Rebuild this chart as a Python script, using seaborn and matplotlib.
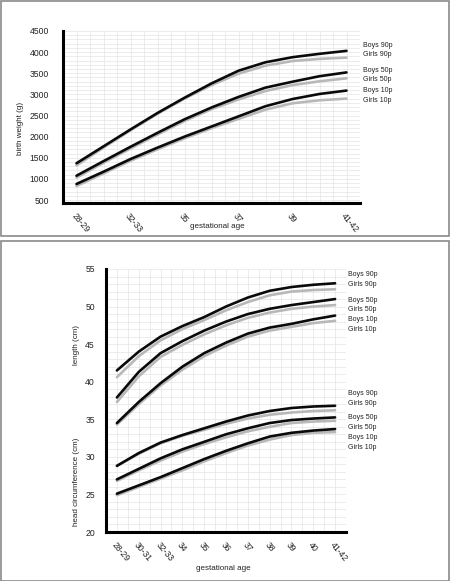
import numpy as np
import pandas as pd
import matplotlib
matplotlib.use("Agg")
import matplotlib.pyplot as plt
from matplotlib.patches import Rectangle
from matplotlib.ticker import MultipleLocator
import seaborn as sns

# ---------------- data ----------------
ages = ["28-29", "30-31", "32-33", "34", "35", "36", "37", "38", "39", "40", "41-42"]
top_tick_labels = ["28-29", "32-33", "35", "37", "39", "41-42"]

weight_boys_90 = [1370, 1770, 2170, 2560, 2920, 3260, 3560, 3760, 3880, 3960, 4030]
weight_girls_90 = [1320, 1740, 2150, 2540, 2900, 3220, 3490, 3680, 3790, 3840, 3870]
weight_boys_50 = [1075, 1420, 1760, 2090, 2410, 2690, 2940, 3160, 3300, 3430, 3520]
weight_girls_50 = [1030, 1380, 1720, 2050, 2370, 2650, 2880, 3080, 3220, 3310, 3380]
weight_boys_10 = [880, 1170, 1470, 1740, 2000, 2240, 2480, 2720, 2890, 3010, 3090]
weight_girls_10 = [830, 1130, 1430, 1700, 1960, 2200, 2420, 2640, 2790, 2860, 2900]

length_boys_90 = [41.5, 44.0, 46.0, 47.4, 48.6, 50.0, 51.2, 52.1, 52.6, 52.9, 53.1]
length_girls_90 = [40.6, 43.4, 45.5, 47.0, 48.2, 49.5, 50.6, 51.5, 52.0, 52.2, 52.3]
length_boys_50 = [37.9, 41.3, 43.8, 45.4, 46.8, 48.0, 49.0, 49.7, 50.2, 50.6, 51.0]
length_girls_50 = [37.3, 40.7, 43.3, 44.9, 46.3, 47.5, 48.5, 49.2, 49.7, 50.0, 50.2]
length_boys_10 = [34.5, 37.3, 39.8, 42.0, 43.8, 45.2, 46.4, 47.2, 47.7, 48.3, 48.8]
length_girls_10 = [34.3, 37.0, 39.5, 41.6, 43.4, 44.8, 46.0, 46.8, 47.3, 47.8, 48.1]

head_boys_90 = [28.8, 30.5, 31.9, 32.9, 33.8, 34.7, 35.5, 36.1, 36.5, 36.7, 36.8]
head_girls_90 = [28.8, 30.4, 31.8, 32.8, 33.6, 34.4, 35.1, 35.6, 35.9, 36.1, 36.2]
head_boys_50 = [27.0, 28.4, 29.8, 31.0, 32.0, 33.0, 33.8, 34.5, 34.9, 35.1, 35.25]
head_girls_50 = [26.8, 28.2, 29.5, 30.7, 31.7, 32.6, 33.4, 34.0, 34.5, 34.7, 34.8]
head_boys_10 = [25.1, 26.2, 27.3, 28.5, 29.7, 30.8, 31.8, 32.7, 33.2, 33.5, 33.7]
head_girls_10 = [24.9, 26.0, 27.1, 28.2, 29.4, 30.5, 31.5, 32.3, 32.9, 33.2, 33.3]

series_names = ["Boys 90p", "Girls 90p", "Boys 50p", "Girls 50p", "Boys 10p", "Girls 10p"]

# label anchor positions (layout only)
weight_label_y = [4155, 3942, 3564, 3343, 3099, 2863]
length_label_y = [54.24, 53.0, 50.86, 49.58, 48.24, 46.95]
head_label_y = [38.42, 37.13, 35.21, 33.97, 32.59, 31.30]

# ---------------- style ----------------
sns.set_style("white")
plt.rcParams["font.family"] = ["Liberation Sans", "DejaVu Sans"]
BLACK = "#0a0a0a"
GRAY = "#b8b8b8"
GRID = "#e4e4e4"
TXT = "#222222"

fig = plt.figure(figsize=(4.5, 5.81), dpi=100)

# panel borders
W, H = 450.0, 581.0
for (y0, y1) in [(0.5, 235.5), (240.5, 580.5)]:
    fig.patches.append(Rectangle((0.5 / W, 1 - y1 / H), 448.5 / W, (y1 - y0) / H,
                                 transform=fig.transFigure, fill=False,
                                 edgecolor="#8a8a8a", lw=1.2))

x = np.arange(len(ages))


def draw(ax, boys, girls):
    sns.lineplot(x=x, y=boys, ax=ax, color=BLACK, lw=1.9, zorder=3,
                 solid_joinstyle="round", solid_capstyle="round")
    sns.lineplot(x=x, y=girls, ax=ax, color=GRAY, lw=1.9, zorder=2,
                 solid_joinstyle="round", solid_capstyle="round")


def style_axes(ax, ylim, major, minor, ypad):
    ax.set_xlim(-0.5, 10.5)
    ax.set_ylim(*ylim)
    ax.xaxis.set_minor_locator(MultipleLocator(0.5))
    ax.yaxis.set_minor_locator(MultipleLocator(minor))
    ax.yaxis.set_major_locator(MultipleLocator(major))
    ax.grid(which="both", color=GRID, lw=0.5, zorder=0)
    ax.set_axisbelow(True)
    for s in ["top", "right"]:
        ax.spines[s].set_visible(False)
    for s in ["left", "bottom"]:
        ax.spines[s].set_linewidth(2.2)
        ax.spines[s].set_color("black")
        ax.spines[s].set_zorder(5)
    ax.tick_params(axis="both", which="both", length=0)
    ax.tick_params(axis="y", pad=ypad, labelsize=6.2, labelcolor=TXT)
    ax.set_xlabel("")
    ax.set_ylabel("")


# ---------------- top panel: birth weight ----------------
ax1 = fig.add_axes([63 / W, 1 - 203 / H, 297 / W, 172 / H])
draw(ax1, weight_boys_90, weight_girls_90)
draw(ax1, weight_boys_50, weight_girls_50)
draw(ax1, weight_boys_10, weight_girls_10)
style_axes(ax1, (430, 4500), 500, 100, 10)
ax1.set_yticks(np.arange(500, 4501, 500))
top_pos = [ages.index(t) for t in top_tick_labels]
ax1.set_xticks(top_pos)
ax1.set_xticklabels(top_tick_labels, rotation=-50, ha="left", va="top",
                    rotation_mode="anchor", fontsize=6.2, color=TXT)
ax1.tick_params(axis="x", pad=6)
for name, yv in zip(series_names, weight_label_y):
    ax1.text(1.01, yv, name, transform=ax1.get_yaxis_transform(),
             fontsize=5.0, va="center", ha="left", color=TXT)

fig.text(20 / W, 1 - 128 / H, "birth weight (g)", rotation=90, ha="center",
         va="center", fontsize=5.8, color=TXT)
fig.text(217 / W, 1 - 227 / H, "gestational age", ha="center", va="center",
         fontsize=5.8, color=TXT)

# ---------------- bottom panel: length + head circumference ----------------
ax2 = fig.add_axes([106 / W, 1 - 532 / H, 240 / W, 263 / H])
draw(ax2, length_boys_90, length_girls_90)
draw(ax2, length_boys_50, length_girls_50)
draw(ax2, length_boys_10, length_girls_10)
draw(ax2, head_boys_90, head_girls_90)
draw(ax2, head_boys_50, head_girls_50)
draw(ax2, head_boys_10, head_girls_10)
style_axes(ax2, (20, 55), 5, 1, 8)
ax2.set_yticks(np.arange(20, 56, 5))
ax2.set_xticks(x)
ax2.set_xticklabels(ages, rotation=-50, ha="left", va="top",
                    rotation_mode="anchor", fontsize=6.2, color=TXT)
ax2.tick_params(axis="x", pad=6)
for name, yv in zip(series_names, length_label_y):
    ax2.text(1.01, yv, name, transform=ax2.get_yaxis_transform(),
             fontsize=5.0, va="center", ha="left", color=TXT)
for name, yv in zip(series_names, head_label_y):
    ax2.text(1.01, yv, name, transform=ax2.get_yaxis_transform(),
             fontsize=5.0, va="center", ha="left", color=TXT)

fig.text(77 / W, 1 - 345 / H, "length (cm)", rotation=90, ha="center",
         va="center", fontsize=5.8, color=TXT)
fig.text(77 / W, 1 - 482 / H, "head circumference (cm)", rotation=90,
         ha="center", va="center", fontsize=5.8, color=TXT)
fig.text(223 / W, 1 - 569 / H, "gestational age", ha="center", va="center",
         fontsize=5.8, color=TXT)

fig.savefig("out.png", dpi=100, facecolor="white")
